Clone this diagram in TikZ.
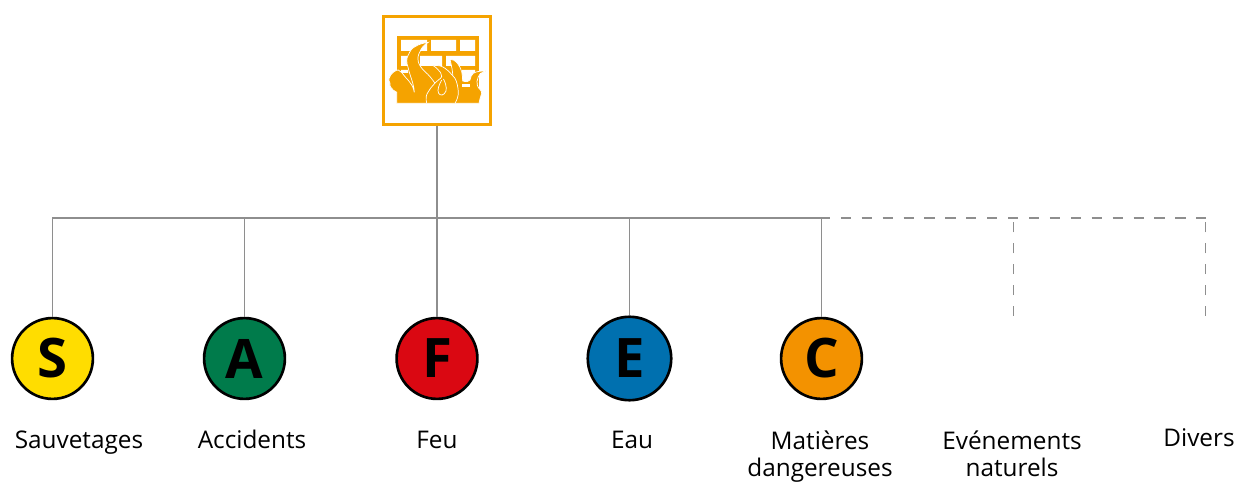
\documentclass[tikz,border=0pt]{standalone}
\usepackage{fontspec}
\setmainfont{Open Sans}
\definecolor{lineGrey}{HTML}{8E8E8E}
\definecolor{iconOrange}{HTML}{F5A300}
\definecolor{colS}{HTML}{FFDD00}
\definecolor{colA}{HTML}{007B4B}
\definecolor{colF}{HTML}{DA0812}
\definecolor{colE}{HTML}{0070AF}
\definecolor{colC}{HTML}{F39200}
\tikzset{font={\fontsize{13.85pt}{15.9pt}\selectfont}}
\tikzset{
  solidline/.style={draw=lineGrey,line width=.75pt},
  dashline/.style={draw=lineGrey,line width=.75pt,dash pattern=on 5.8pt off 6.1pt},
  disc/.style={circle,draw=black,line width=1.5pt,minimum size=46pt,inner sep=0pt,font={\fontsize{31pt}{32pt}\selectfont\bfseries}},
  caption/.style={align=center,anchor=base},
  flame/.style={fill=iconOrange,draw=white,line width=.4pt},
}
\begin{document}
\begin{tikzpicture}[x=0.02cm,y=-0.02cm]
\useasboundingbox (0,0) rectangle (1234,482);

%icon
\node[draw=iconOrange,line width=1.8pt,minimum width=61pt,minimum height=61pt,inner sep=0pt] at (437,70.5) (icon) {};
\fill[iconOrange] (397,36) rectangle (479,103);
\fill[white] (401,40) rectangle (427,51) (431,40) rectangle (456,51) (460,40) rectangle (475,51);
\fill[white] (401,56) rectangle (414,66) (420,56) rectangle (442,66) (446,56) rectangle (475,66);
\fill[white] (401,70) rectangle (408,73) (462,70) rectangle (475,84);
% flames
\path[flame] (450,59.3) .. controls (456,59) and (460,66) .. (461.7,71.7) .. controls (462.5,75) and (462.5,78) .. (462.7,81) .. controls (466,82) and (469,82) .. (470,80) .. controls (471,77) and (471,75) .. (473.3,73.3) .. controls (477,71) and (482,71) .. (486,71) .. controls (481,73) and (478.5,74) .. (478.3,76.7) .. controls (477.5,80) and (476,83) .. (477.3,85) .. controls (478,89) and (482,90) .. (481.7,93.3) .. controls (481,97) and (479,100) .. (479,103.3) -- (452,103.3) -- (452,85) .. controls (454,76) and (452,68) .. (450,59.3) -- cycle;
\fill[white] (462,84) rectangle (470,87);
\path[flame] (396.7,103.3) -- (396.7,92.3) .. controls (392,90) and (389,86) .. (390,83.3) .. controls (388,80) and (389,77) .. (390.7,75) .. controls (393,72) and (396,70) .. (398.3,70) .. controls (401,71) and (403,74) .. (405,76.7) .. controls (408,80) and (410,82) .. (411.7,85) .. controls (413,87) and (414,90) .. (414.3,92.3) .. controls (414,84) and (410,76) .. (408.3,68.3) .. controls (406,62) and (406.5,58) .. (408.3,55) .. controls (410,51) and (412,48) .. (415,46.7) .. controls (419,44) and (424,43) .. (428.3,42.3) .. controls (424,45) and (421,48) .. (420,51.7) .. controls (418,55) and (417.5,58) .. (418.3,61.7) .. controls (419,65) and (422,69) .. (425,71.7) .. controls (429,75) and (432,79) .. (435,83.3) -- (440,103.3) -- cycle;
\path[flame] (426.7,103.3) .. controls (425.5,98) and (426,95) .. (428.3,91.7) .. controls (431,87) and (435,83) .. (438.3,80) .. controls (440,79) and (441,78) .. (441.7,76.7) .. controls (441,73) and (440,71) .. (438.3,70) .. controls (437,68) and (435,67) .. (433.3,65.7) .. controls (438,65) and (442,66) .. (445,68.3) .. controls (449,71) and (452,75) .. (455,78.3) .. controls (457,82) and (458,87) .. (458.3,91.7) .. controls (458.5,96) and (457,100) .. (455,103.3) -- cycle;
\draw[white,line width=.4pt] (441.7,80) .. controls (439,85) and (437,90) .. (438.5,93) .. controls (440,96) and (444,96) .. (446,91) .. controls (447,87) and (445,82) .. (443.5,79);

%branches
\coordinate (hub) at (437,218);
\node[disc,fill=colS] at (52.5,358.5) (S) {S};
\node[disc,fill=colA] at (244.5,358.5) (A) {A};
\node[disc,fill=colF] at (437,358.5) (F) {F};
\node[disc,fill=colE,minimum size=47.5pt] at (629.5,358.5) (E) {E};
\node[disc,fill=colC] at (821.5,358.5) (C) {C};
\coordinate (nat) at (1013.5,316);
\coordinate (div) at (1205.5,316);
\coordinate (natTop) at (1013.5,218);
\coordinate (divTop) at (1205.5,218);
\coordinate (endSolid) at (821.5,218);

\draw[solidline] (icon.south) -- (F.north);
\draw[solidline] (S.north) |- (endSolid) -- (C.north);
\draw[solidline] (A.north) -- (A.north |- hub);
\draw[solidline] (E.north) -- (E.north |- hub);
\draw[dashline,dash phase=.9pt] (endSolid) -- (divTop);
\draw[dashline] (div) -- (divTop);
\draw[dashline] (nat) -- (natTop);

%labels
\node[caption] at (79,449) (labS) {Sauvetages};
\node[caption] at (252,449) (labA) {Accidents};
\node[caption] at (437,449) (labF) {Feu};
\node[caption] at (632,449) (labE) {Eau};
\node[caption] at (820,477) (labC) {Matières\\dangereuses};
\node[caption] at (1012,477) (labN) {Evénements\\naturels};
\node[caption] at (1199,447) (labD) {Divers};
\end{tikzpicture}
\end{document}
